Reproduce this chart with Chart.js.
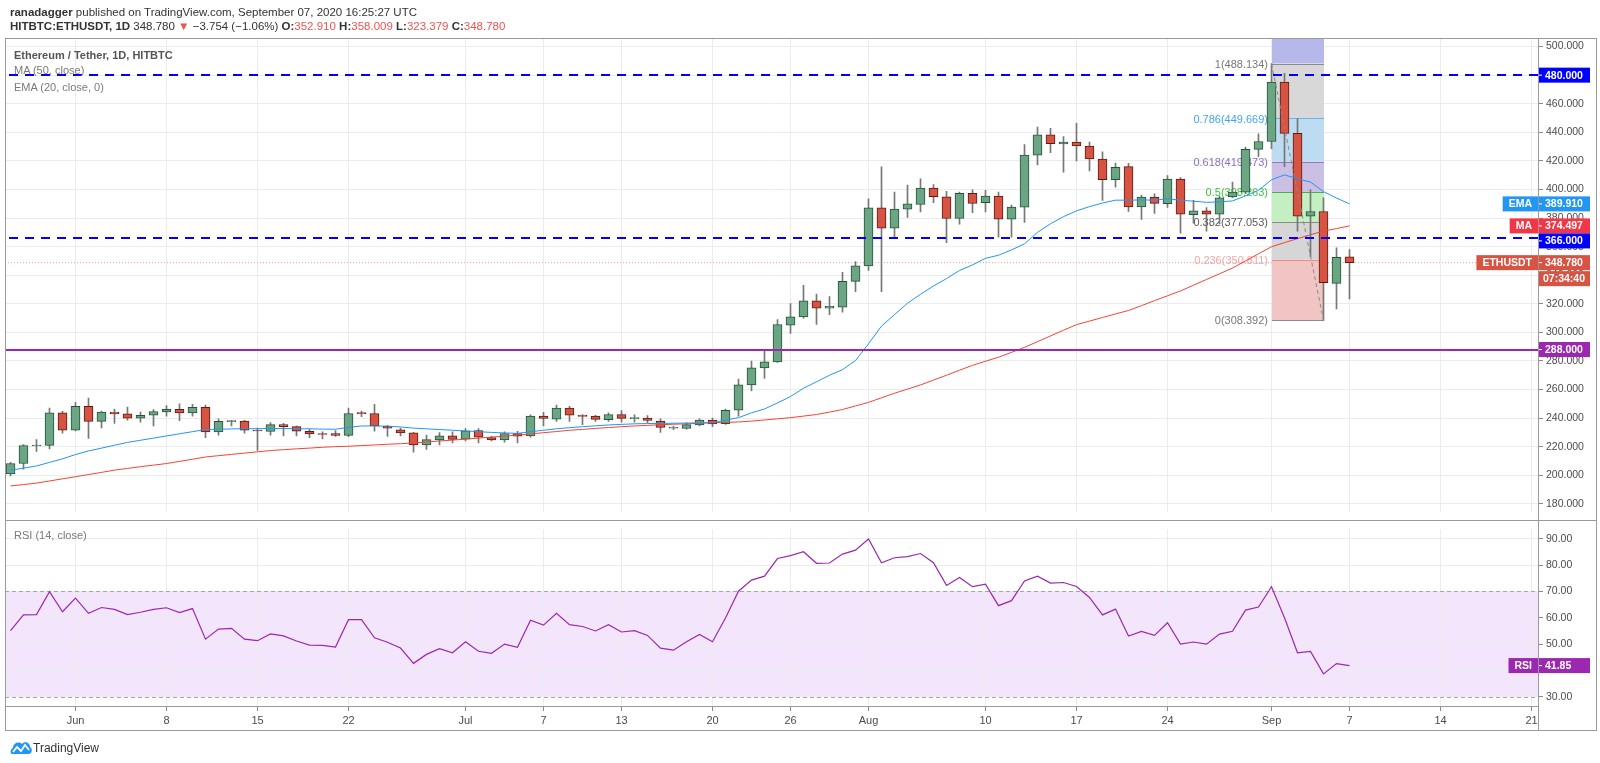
<!DOCTYPE html>
<html><head><meta charset="utf-8">
<script src="https://cdn.jsdelivr.net/npm/chart.js@4.4.1/dist/chart.umd.min.js"></script>
<style>
html,body{margin:0;padding:0;background:#fff;}
body{width:1600px;height:763px;position:relative;overflow:hidden;font-family:"Liberation Sans",Arial,sans-serif;}
canvas{position:absolute;left:0;}
#main{top:0;}
#rsi{top:520px;}
.abs{position:absolute;white-space:nowrap;}
.hdr{left:10px;font-size:11.5px;color:#333;line-height:14px;}
.red{color:#ef5350;}
.leg{left:14px;font-size:11px;line-height:14px;color:#7a7a7a;}
.line{position:absolute;background:#9a9a9a;z-index:5;}
</style></head>
<body>
<canvas id="main" width="1600" height="521" style="width:1600px;height:521px"></canvas>
<canvas id="rsi" width="1600" height="243" style="width:1600px;height:243px"></canvas>

<div class="abs hdr" style="top:5px"><b>ranadagger</b> published on TradingView.com, September 07, 2020 16:25:27 UTC</div>
<div class="abs hdr" style="top:19px"><b>HITBTC:ETHUSDT, 1D</b> 348.780 <span class="red">&#9660;</span> &minus;3.754 (&minus;1.06%) <b>O:</b><span class="red">352.910</span> <b>H:</b><span class="red">358.009</span> <b>L:</b><span class="red">323.379</span> <b>C:</b><span class="red">348.780</span></div>

<div class="abs leg" style="top:48px;color:#555;font-weight:bold">Ethereum / Tether, 1D, HITBTC</div>
<div class="abs leg" style="top:63px">MA (50, close)</div>
<div class="abs leg" style="top:80px">EMA (20, close, 0)</div>
<div class="abs leg" style="top:528px">RSI (14, close)</div>

<!-- frame -->
<div class="line" style="left:5px;top:38px;width:1592px;height:1px"></div>
<div class="line" style="left:5px;top:730px;width:1592px;height:1px"></div>
<div class="line" style="left:5px;top:38px;width:1px;height:693px"></div>
<div class="line" style="left:1596px;top:38px;width:1px;height:693px"></div>
<div class="line" style="left:1538px;top:38px;width:1px;height:693px"></div>
<div class="line" style="left:5px;top:520px;width:1592px;height:1px"></div>
<div class="line" style="left:5px;top:706px;width:1533px;height:1px"></div>

<svg class="abs" style="left:10px;top:740px" width="22" height="16" viewBox="0 0 22 16">
  <path d="M2 14 C0 14 0 9 3 8 C3 3 9 1 12 4 C14 1 20 2 20 7 C23 8 22 14 19 14 Z" fill="#2196f3"/>
  <polyline points="3,12 7,7 11,11 15,5 19,10" fill="none" stroke="#fff" stroke-width="1.8"/>
</svg>
<div class="abs" style="left:33px;top:741px;font-size:12px;color:#333">TradingView</div>

<script>
// ---------- DATA (index 0 = 2020-05-27, daily) ----------
const opens  = [201,208.2,220.5,220.9,243.7,231.5,248.2,237.7,244.3,243,240,242,244.3,246.2,243.7,247.6,230.4,237.5,237.9,231.5,
230.6,235.4,234,230.8,229.2,229.2,227.9,243.5,243.2,234.5,231.8,229.7,221.2,224.7,227.6,225.3,231.3,226.3,224.7,229.2,
227.6,241.4,239.3,247.1,242,241.4,238.9,242.5,239.6,240,238,233,232.7,235.2,238.6,236.1,245.5,263.2,275.1,279.4,
305,310.8,322,317,317.6,335.7,346.5,387.2,373,386.3,389.5,401,394.8,379.7,397.3,390.7,395.3,379.2,387.7,424,
438.2,431.8,433.2,430.4,421.3,406.8,416,387.8,394.7,390.1,407.3,382.3,385.1,382.8,394.7,398.1,428.1,433.6,475.1,439.3,
381.4,384.6,334.3,352.91];
const highs  = [209,221.5,225,247.1,244.8,251,254,245,246.4,247.8,244.3,246,248.7,250,249.6,249.2,239.5,238.5,238.5,233.1,
236.8,236.3,234.5,232.2,230.4,231.3,247.1,245,249.6,235,233.1,230,228.1,229.9,230.4,232.7,232.7,227.2,230.4,230.8,
242.3,244.1,249.2,248.2,242.5,242,243.7,245.3,242.3,241.8,239.5,234.5,236.8,239.5,240,246.4,267.3,279.9,287.6,308.9,
320.2,333,326.8,325,342.1,349.5,393.4,415.9,398.2,403,407.4,403.5,398.7,398.2,399.8,399.4,398.2,389,431.4,443.7,
442.8,437.1,446.2,433.2,426.3,418.5,418.3,396.1,397,409.8,408.4,392.4,387.4,395.4,405.2,429.7,438.9,488.134,481.2,449.6,
400,394.2,359.1,358.009];
const lows   = [199.5,204.3,216.6,218.5,229.5,231,225.8,233.1,236.3,238.6,237.2,234.5,241.4,238.2,241.4,226.3,228.1,234.5,229.5,217.3,
228.1,227.6,227.6,226.3,225.4,227.2,227,241,230.8,227.2,227.6,216.2,218,221.2,222.6,224,222.6,224,223.1,222.6,
226.7,234.5,237.7,237.7,235.4,237.7,237.7,237.2,237.2,236.8,229.9,232,232.2,234.5,234,235.5,241.4,259,267.7,279,
299.3,310,305.5,312.4,314.2,328.4,343.3,328.4,366.6,380.4,384.3,390.7,362.7,375.8,383.8,384.3,366.6,366.6,376.9,417.1,
425.8,412.1,419.9,413,392.4,401.6,384.6,379.1,383.3,387.4,369.5,376.4,370.9,375.9,394.2,397,422.9,428.6,416,370.9,
353,308.392,316.4,323.379];
const closes = [208.2,220.8,220.9,243.7,231.5,248.2,237.7,244.3,243,240,242,244.6,246.2,243.7,247.6,230.4,237.7,237.9,231.5,231,
235.4,234,230.8,229,228.5,227.9,243.2,243.1,234.5,232.9,229.7,221.2,224.9,227.6,225.1,231.1,226.7,224.7,229.2,227.4,
241.4,239.8,247.1,242,241.1,239.1,242.5,239.8,239.9,238.4,233.4,233.2,235.4,238.6,235.9,245.5,263.2,275.1,279.4,305.5,
310.8,322,317,318.3,335.7,346.5,387.2,373,386.3,390,401,395,379.7,397.3,390.2,395.3,379.2,387.7,424.1,438.2,
432,433.2,430.4,421.3,406.8,415.5,387.8,394.7,390.3,407.3,382.8,385.1,382.8,394.2,398.1,428.1,433.6,475.1,439.3,381.4,
384.6,334.7,352.53,348.78];
const ema20  = [203.5,205,206.5,209,211.5,214.5,217,219,221,223,224.5,226,227.5,229,230.5,232,232.2,232.4,232.6,232.6,
232.7,232.7,232.6,232.5,232.3,232.2,233.5,234.5,234.5,234.3,233.8,233,232.5,232,231.5,231,230.5,230,229.6,229.3,
230.5,231.5,232.5,233.3,234,234.6,235.2,235.6,236,236.2,236.3,236.4,236.5,236.7,236.8,238.7,240.3,243.7,246.4,250.6,
255.1,260.9,265.4,270,273.9,280.3,292,304.4,312.4,320.4,326.6,332.5,337.6,343.3,347.2,351.8,354,357.7,362,370,
376,381,385,388,390.5,392.5,392.5,392.7,392.5,393.5,392.5,391.8,391,391.3,392,395.5,399.4,406.8,410.2,407.5,
405.2,398.5,394,389.91];
const ma50   = [192.5,193.5,194.5,196,197.5,199,200.5,202,203.6,204.8,206,207.1,208.2,209.7,211.2,212.8,213.7,214.6,215.5,216.4,
217.3,217.9,218.5,219,219.6,220,220.3,220.8,221.2,221.7,222.1,222.6,223.3,224,224.6,225.3,226,226.7,227.4,228.1,
228.9,229.8,230.6,231.5,232.1,232.8,233.4,234,234.5,234.9,235.4,235.7,236,236.4,236.8,237,237.3,237.9,238.7,239.5,
240.3,241.4,242.5,244.2,246,248.5,251,254.2,257.4,260.3,263.2,266.6,270,273.5,276.9,279.8,282.6,286,289.5,293.5,
297.5,301.5,305.4,307.9,310.4,312.9,315.3,318.7,322.2,325.6,329,333,337,341,345,350,355,359.9,362.8,365.6,
368.3,370.9,372.6,374.497];
const rsi14  = [55.1,61.1,61.2,69.9,62.3,67.5,61.7,63.9,63.2,61.2,62.1,63.2,63.8,62,63.5,51.9,55.7,56,51.9,51.3,
53.9,53.1,51.2,49.6,49.5,48.9,59.3,59.3,52.4,50.7,48.5,42.7,46.1,48.3,46.7,50.9,47.3,46.5,50,48.8,
59.1,57.2,61.7,57.4,56.7,55,57.4,54.6,55.1,53.3,48.5,47.7,50.9,53.7,50.9,59.9,70.1,74.3,75.8,82.5,
83.6,85.1,80.7,80.8,84.2,85.7,89.9,80.9,82.8,83.2,84.4,80.9,72.3,75.3,71.8,72.8,64.6,66.5,74,75.8,
73.2,73.4,71.9,67.7,61.1,63.3,53.1,54.8,53.3,58.1,50,50.8,50,53.8,54.9,62.9,64.1,71.8,60,46.7,
47.2,38.7,42.6,41.85];
const tickDays   = [5,12,19,26,35,41,47,54,60,66,75,82,89,97,103,110,117];
const tickLabels = ['Jun','8','15','22','Jul','7','13','20','26','Aug','10','17','24','Sep','7','14','21'];
const priceTicks = [180,200,220,240,260,280,300,320,340,360,380,400,420,440,460,480,500];
const rsiTicks   = [30,40,50,60,70,80,90];
const resistanceLevels = [480,366];
const supportLevel = 288;
const fibStartDay = 97, fibEndDay = 101;
const fibRatios = ['1','0.786','0.618','0.5','0.382','0.236','0'];
const fibPrices = [488.134,449.669,419.473,398.263,377.053,350.811,308.392];
const countdown = '07:34:40';

// ---------- STYLE ----------
const X_MIN = -0.4231, X_MAX = 117.5;
const UP = '#6ba583', UP_B = '#225437', DN = '#d75442', DN_B = '#5b1a13';
const GRID = '#ececec', TXT = '#4c4c4c';
const FONT = '"Liberation Sans", Arial, sans-serif';
const fibLineCol = ['#8a8a8a','#64b5f6','#8e7cc3','#4caf50','#8a8a8a','#f28b82','#8a8a8a'];
const fibTextCol = ['#787878','#42a5f5','#8a6fbf','#3fc23f','#5a5a5a','#f4a6a3','#787878'];
const fibFill = ['#d8d8d8','#bddcf2','#cbbfe3','#c4efc2','#d6d6d6','#f2c5c5'];
const fibTopFill = '#b6b8ec';

const idx = closes.map((_, i) => i);
Chart.defaults.font.family = FONT;

function xScale(showLabels){
  return {
    type:'linear', min:X_MIN, max:X_MAX, offset:false, display:true,
    afterBuildTicks: s => { s.ticks = tickDays.map(v => ({value:v})); },
    afterFit: s => { s.height = showLabels ? 24 : 0; },
    grid:{color:GRID, offset:false, drawTicks:showLabels, tickLength:5, tickColor:'#8a8a8a'},
    border:{display:false},
    ticks:{display:showLabels, autoSkip:false, maxRotation:0, padding:3, color:TXT, font:{size:11},
      callback: v => { const k = tickDays.indexOf(v); return k >= 0 ? tickLabels[k] : ''; }}
  };
}
function yScale(min, max, ticks, dec){
  return {
    type:'linear', position:'right', min, max,
    afterBuildTicks: s => { s.ticks = ticks.map(v => ({value:v})); },
    afterFit: s => { s.width = 62; },
    grid:{color:GRID, drawTicks:true, tickLength:5, tickColor:'#8a8a8a'},
    border:{display:false},
    ticks:{autoSkip:false, padding:3, color:TXT, font:{size:10.5}, callback: v => Number(v).toFixed(dec)}
  };
}

function drawTag(ctx, top, value, color, tag, right){
  ctx.save();
  ctx.fillStyle = color;
  ctx.fillRect(right, top, 52, 15);
  ctx.strokeStyle = '#fff'; ctx.lineWidth = 1;
  ctx.beginPath(); ctx.moveTo(right, top + 7.5); ctx.lineTo(right + 4, top + 7.5); ctx.stroke();
  ctx.fillStyle = '#fff'; ctx.font = 'bold 10.5px ' + FONT;
  ctx.textBaseline = 'middle'; ctx.textAlign = 'left';
  ctx.fillText(value, right + 7, top + 8);
  if (tag){
    const w = ctx.measureText(tag).width + 12;
    ctx.fillStyle = color;
    ctx.fillRect(right - w, top, w, 15);
    ctx.fillStyle = '#fff'; ctx.textAlign = 'center';
    ctx.fillText(tag, right - w/2, top + 8);
  }
  ctx.restore();
}

const mainOverlay = {
  id:'mainOverlay',
  beforeDatasetsDraw(chart){
    const {ctx, chartArea:a, scales:{x, y}} = chart;
    ctx.save();
    // last price dotted line
    const lp = y.getPixelForValue(closes[closes.length-1]);
    ctx.strokeStyle = '#ef9a9a'; ctx.lineWidth = 1; ctx.setLineDash([1,2]);
    ctx.beginPath(); ctx.moveTo(a.left, lp); ctx.lineTo(a.right, lp); ctx.stroke();
    ctx.setLineDash([]);
    // fib box
    const x0 = Math.round(x.getPixelForValue(fibStartDay)), x1 = Math.round(x.getPixelForValue(fibEndDay));
    const py = fibPrices.map(p => y.getPixelForValue(p));
    ctx.fillStyle = fibTopFill;
    ctx.fillRect(x0, a.top, x1 - x0, py[0] - a.top);
    for (let k = 0; k < fibPrices.length - 1; k++){
      ctx.fillStyle = fibFill[k];
      ctx.fillRect(x0, py[k], x1 - x0, py[k+1] - py[k]);
    }
    ctx.font = '11px ' + FONT; ctx.textAlign = 'right'; ctx.textBaseline = 'middle';
    for (let k = 0; k < fibPrices.length; k++){
      ctx.strokeStyle = fibLineCol[k]; ctx.lineWidth = 1;
      ctx.beginPath(); ctx.moveTo(x0, Math.round(py[k]) + 0.5); ctx.lineTo(x1, Math.round(py[k]) + 0.5); ctx.stroke();
      ctx.fillStyle = fibTextCol[k];
      ctx.fillText(fibRatios[k] + '(' + fibPrices[k].toFixed(3) + ')', x0 - 4, py[k] + 1);
    }
    ctx.restore();
  },
  afterDatasetsDraw(chart){
    const {ctx, chartArea:a, scales:{x, y}} = chart;
    ctx.save();
    // fib trend dashed diagonal
    ctx.strokeStyle = '#8a8a8a'; ctx.lineWidth = 1; ctx.setLineDash([4,3]);
    ctx.beginPath();
    ctx.moveTo(x.getPixelForValue(fibStartDay), y.getPixelForValue(fibPrices[0]));
    ctx.lineTo(x.getPixelForValue(fibEndDay), y.getPixelForValue(fibPrices[fibPrices.length-1]));
    ctx.stroke();
    // resistance dashed lines
    ctx.strokeStyle = '#0000ff'; ctx.lineWidth = 2; ctx.setLineDash([9,7]);
    resistanceLevels.forEach(v => {
      const py = Math.round(y.getPixelForValue(v));
      ctx.beginPath(); ctx.moveTo(a.left + 4, py); ctx.lineTo(a.right, py); ctx.stroke();
    });
    ctx.setLineDash([]);
    ctx.strokeStyle = '#9c27b0'; ctx.lineWidth = 2;
    const sp = Math.round(y.getPixelForValue(supportLevel));
    ctx.beginPath(); ctx.moveTo(a.left, sp); ctx.lineTo(a.right, sp); ctx.stroke();
    ctx.restore();
  },
  afterDraw(chart){
    const {ctx, chartArea:a, scales:{y}} = chart;
    const last = closes.length - 1;
    const tags = [
      {v:resistanceLevels[0], t:resistanceLevels[0].toFixed(3), c:'#0000ff'},
      {v:ema20[last], t:ema20[last].toFixed(3), c:'#2196f3', tag:'EMA'},
      {v:ma50[last], t:ma50[last].toFixed(3), c:'#f23645', tag:'MA'},
      {v:resistanceLevels[1], t:resistanceLevels[1].toFixed(3), c:'#0000ff'},
      {v:closes[last], t:closes[last].toFixed(3), c:DN, tag:'ETHUSDT', sub:countdown},
      {v:supportLevel, t:supportLevel.toFixed(3), c:'#9c27b0'}
    ].map(o => ({...o, cy:y.getPixelForValue(o.v)})).sort((p, q) => p.cy - q.cy);
    let prevBottom = -1e9;
    tags.forEach(o => {
      let top = Math.max(o.cy - 7.5, prevBottom);
      drawTag(ctx, top, o.t, o.c, o.tag, a.right);
      prevBottom = top + 15;
      if (o.sub){
        ctx.save();
        ctx.fillStyle = o.c; ctx.fillRect(a.right, prevBottom + 1, 52, 15);
        ctx.fillStyle = '#fff'; ctx.font = 'bold 10.5px ' + FONT; ctx.textBaseline = 'middle';
        ctx.fillText(o.sub, a.right + 5, prevBottom + 9);
        ctx.restore();
        prevBottom += 16;
      }
    });
  }
};

new Chart(document.getElementById('main'), {
  type:'bar',
  data:{datasets:[
    {type:'line', data:idx.map(i => ({x:i, y:ema20[i]})), borderColor:'#2196f3', borderWidth:1, pointRadius:0, tension:0, order:0},
    {type:'line', data:idx.map(i => ({x:i, y:ma50[i]})), borderColor:'#f44336', borderWidth:1, pointRadius:0, tension:0, order:1},
    {type:'bar', data:idx.map(i => ({x:i, y:[opens[i], closes[i]]})), barThickness:9, grouped:false, order:2,
      minBarLength:1, borderWidth:1, borderSkipped:false,
      backgroundColor: c => closes[c.dataIndex] >= opens[c.dataIndex] ? UP : DN,
      borderColor: c => closes[c.dataIndex] >= opens[c.dataIndex] ? UP_B : DN_B},
    {type:'bar', data:idx.map(i => ({x:i, y:[lows[i], highs[i]]})), barThickness:1, grouped:false, order:3,
      backgroundColor:'#777777', borderWidth:0}
  ]},
  options:{
    responsive:false, animation:false, devicePixelRatio:1,
    layout:{padding:{left:5, top:38, right:0, bottom:1}},
    plugins:{legend:{display:false}, tooltip:{enabled:false}},
    scales:{x:xScale(false), y:yScale(174.5, 506.0, priceTicks, 3)}
  },
  plugins:[mainOverlay]
});

const rsiOverlay = {
  id:'rsiOverlay',
  beforeDraw(chart){
    const {ctx, chartArea:a, scales:{y}} = chart;
    const t = y.getPixelForValue(70), b = y.getPixelForValue(30);
    ctx.save(); ctx.fillStyle = '#f3e6fc'; ctx.fillRect(a.left, t, a.right - a.left, b - t); ctx.restore();
  },
  beforeDatasetsDraw(chart){
    const {ctx, chartArea:a, scales:{y}} = chart;
    ctx.save(); ctx.strokeStyle = '#a5a5a5'; ctx.lineWidth = 1; ctx.setLineDash([4,3]);
    [70,30].forEach(v => { const p = Math.round(y.getPixelForValue(v)) + 0.5;
      ctx.beginPath(); ctx.moveTo(a.left, p); ctx.lineTo(a.right, p); ctx.stroke(); });
    ctx.restore();
  },
  afterDraw(chart){
    const {ctx, chartArea:a, scales:{y}} = chart;
    const v = rsi14[rsi14.length-1];
    drawTag(ctx, y.getPixelForValue(v) - 7.5, v.toFixed(2), '#9c27b0', 'RSI', a.right);
  }
};

new Chart(document.getElementById('rsi'), {
  type:'line',
  data:{datasets:[
    {data:idx.map(i => ({x:i, y:rsi14[i]})), borderColor:'#9c27b0', borderWidth:1.2, pointRadius:0, tension:0}
  ]},
  options:{
    responsive:false, animation:false, devicePixelRatio:1,
    layout:{padding:{left:5, top:0, right:0, bottom:33}},
    plugins:{legend:{display:false}, tooltip:{enabled:false}},
    scales:{x:xScale(true), y:yScale(26.5, 93.6, rsiTicks, 2)}
  },
  plugins:[rsiOverlay]
});
</script>
</body></html>
